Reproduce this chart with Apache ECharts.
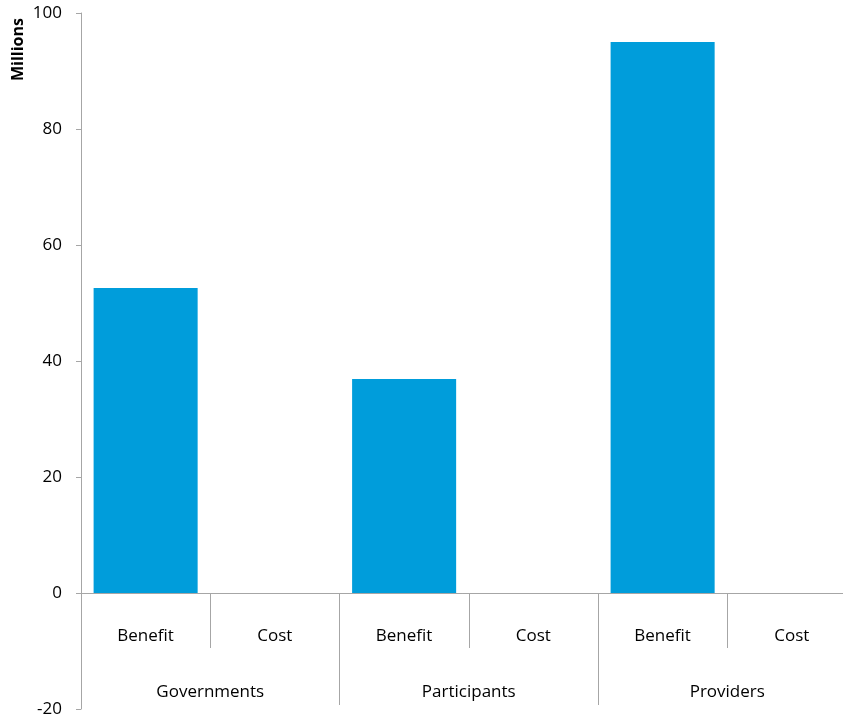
<!DOCTYPE html>
<html>
<head>
<meta charset="utf-8">
<script src="https://cdn.jsdelivr.net/npm/echarts@6/dist/echarts.min.js"></script>
<style>html,body{margin:0;padding:0;background:#fff;overflow:hidden}#c{width:843px;height:717px}</style>
</head>
<body>
<div id="c"></div>
<script>
const subCategories = ['Benefit', 'Cost', 'Benefit', 'Cost', 'Benefit', 'Cost'];
const groups = ['Governments', 'Participants', 'Providers'];
const values = [52.6, 0, 36.9, 0, 95.0, 0];
const yTicks = { min: -20, max: 100, interval: 20 };
const yName = 'Millions';

const FONT = '"Open Sans", "Noto Sans", sans-serif';
const AXIS = '#a6a6a6';
const gridBox = { left: 81, right: -13.5, top: 13, bottom: 8, containLabel: false, outerBoundsMode: 'none' };
const chart = echarts.init(document.getElementById('c'));
chart.setOption({
  animation: false,
  grid: [Object.assign({}, gridBox), Object.assign({}, gridBox)],
  xAxis: [
    {
      type: 'category', data: subCategories, position: 'bottom', gridIndex: 0,
      axisLine: { show: true, onZero: true, lineStyle: { color: AXIS, width: 1 } },
      axisTick: { show: true, interval: 0, length: 55, lineStyle: { color: AXIS } },
      axisLabel: { interval: 0, margin: -81, fontSize: 17, color: '#000', fontFamily: FONT },
      splitLine: { show: false }
    },
    {
      type: 'category', data: groups, position: 'bottom', gridIndex: 1,
      axisLine: { show: true, onZero: true, lineStyle: { color: AXIS, width: 1 } },
      axisTick: { show: true, interval: 0, length: 112, lineStyle: { color: AXIS } },
      axisLabel: { interval: 0, margin: -25, fontSize: 17, color: '#000', fontFamily: FONT },
      splitLine: { show: false }
    }
  ],
  yAxis: [
    {
      type: 'value', gridIndex: 0, min: yTicks.min, max: yTicks.max, interval: yTicks.interval,
      axisLine: { show: true, lineStyle: { color: AXIS } },
      axisTick: { show: true, length: 5, lineStyle: { color: AXIS } },
      axisLabel: { margin: 19, fontSize: 17, color: '#000', fontFamily: FONT },
      splitLine: { show: false }
    },
    {
      type: 'value', gridIndex: 1, min: yTicks.min, max: yTicks.max, interval: yTicks.interval,
      show: false, axisLine: { show: false }, axisTick: { show: false }, axisLabel: { show: false },
      splitLine: { show: false }
    }
  ],
  graphic: [{
    type: 'text', left: 10, top: 18, rotation: Math.PI / 2,
    style: { text: yName, font: 'bold 16px ' + FONT, fill: '#000' }
  }],
  series: [{
    type: 'bar', xAxisIndex: 0, yAxisIndex: 0, data: values, barCategoryGap: '19.5%',
    itemStyle: { color: '#009ddb' }
  }]
});
</script>
</body>
</html>
